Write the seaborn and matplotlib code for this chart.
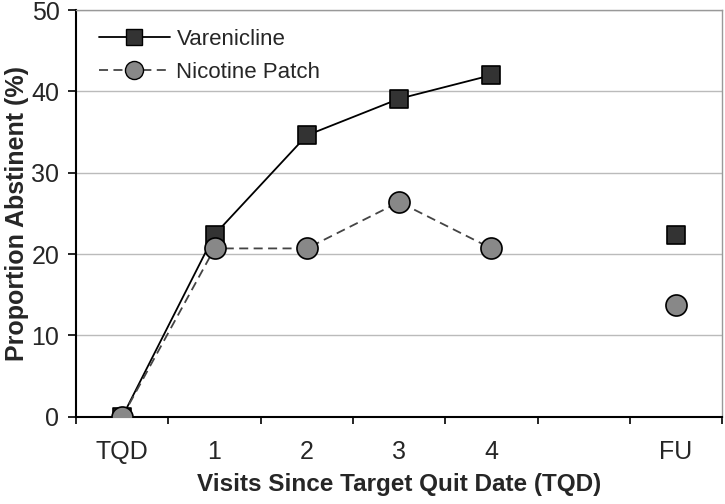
import numpy as np
import pandas as pd
import seaborn as sns
import matplotlib.pyplot as plt
from matplotlib.lines import Line2D

# datos
visitas = ['TQD', '1', '2', '3', '4', '', 'FU']
vareniclina = [0.0, 22.4, 34.6, 39.1, 42.0]
parche = [0.0, 20.7, 20.7, 26.4, 20.7]
vareniclina_fu = 22.4
parche_fu = 13.8

sns.set_theme(style="white")
plt.rcParams['font.family'] = ['Liberation Sans', 'DejaVu Sans']

df = pd.DataFrame({
    'pos': list(range(5)) * 2,
    'valor': vareniclina + parche,
    'grupo': ['Varenicline'] * 5 + ['Nicotine Patch'] * 5,
})
df_fu = pd.DataFrame({
    'pos': [visitas.index('FU')] * 2,
    'valor': [vareniclina_fu, parche_fu],
    'grupo': ['Varenicline', 'Nicotine Patch'],
})

colores = {'Varenicline': 'black', 'Nicotine Patch': '#444444'}
relleno = {'Varenicline': '#333333', 'Nicotine Patch': '#888888'}
marcas = {'Varenicline': 's', 'Nicotine Patch': 'o'}

fig = plt.figure(figsize=(7.25, 5.04), dpi=100)
ax = fig.add_axes([0.105, 0.173, 0.891, 0.807])

sns.lineplot(data=df, x='pos', y='valor', hue='grupo', style='grupo',
             palette=colores, dashes={'Varenicline': '', 'Nicotine Patch': (5, 3)},
             markers=False, linewidth=1.3, legend=False, ax=ax)
for g in ['Varenicline', 'Nicotine Patch']:
    sub = pd.concat([df[df.grupo == g], df_fu[df_fu.grupo == g]])
    sz = 150 if g == 'Varenicline' else 230
    sns.scatterplot(data=sub, x='pos', y='valor', marker=marcas[g], s=sz,
                    color=relleno[g], edgecolor='black', linewidth=1.2,
                    zorder=5, legend=False, ax=ax)

# leyenda manual
h = [Line2D([], [], color='black', lw=1.3, marker='s', markersize=11,
            markerfacecolor='#333333', markeredgecolor='black'),
     Line2D([], [], color='#444444', lw=1.3, ls=(0, (5, 3)), marker='o', markersize=13,
            markerfacecolor='#888888', markeredgecolor='black')]
ax.legend(h, ['Varenicline', 'Nicotine Patch'], loc='upper left', frameon=False,
          fontsize=16, handlelength=3.2, handletextpad=0.3, labelspacing=0.55,
          bbox_to_anchor=(0.004, 1.003))

ax.set_xlim(-0.5, 6.5)
ax.set_ylim(0, 50)
ax.set_xticks(np.arange(-0.5, 7, 1))
ax.set_xticklabels([])
ax.set_xticks(range(len(visitas)), minor=True)
ax.set_xticklabels(visitas, minor=True, fontsize=18)
ax.tick_params(axis='x', which='minor', length=0, pad=17)
ax.tick_params(axis='x', which='major', direction='out', length=5, width=1.2, bottom=True, color='black')
ax.set_yticks(range(0, 51, 10))
ax.tick_params(axis='y', labelsize=18, direction='out', length=6, width=1.2, left=True,
               color='black', pad=6)
ax.yaxis.grid(True, color='#bbbbbb', lw=1)
ax.set_axisbelow(True)

for s in ['left', 'bottom']:
    ax.spines[s].set_color('black')
    ax.spines[s].set_linewidth(1.5)
for s in ['top', 'right']:
    ax.spines[s].set_color('#999999')
    ax.spines[s].set_linewidth(1)

ax.set_xlabel('Visits Since Target Quit Date (TQD)', fontsize=17.5, fontweight='bold', labelpad=6)
ax.set_ylabel('Proportion Abstinent (%)', fontsize=18, fontweight='bold', labelpad=2)

fig.savefig('out.png', dpi=100)
